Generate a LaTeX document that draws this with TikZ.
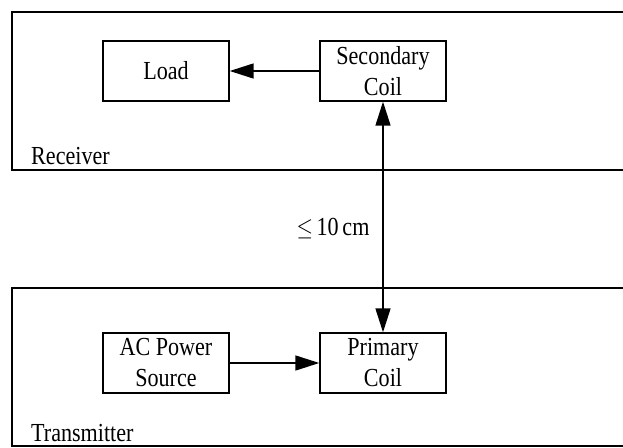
\documentclass[tikz,border=0pt]{standalone}
\usepackage{fontspec}
\usepackage{graphicx}
\setmainfont{Liberation Serif}
\usetikzlibrary{arrows.meta}
\newcommand{\sq}[1]{\scalebox{0.85}[1]{#1}}
\begin{document}
\begin{tikzpicture}[x=1pt,y=-1pt,
  frame/.style={draw,line width=2.4pt},
  blockbox/.style={draw,line width=1.4pt,minimum width=126pt,minimum height=60pt,inner sep=0pt,
    align=center,font=\fontsize{26pt}{31pt}\selectfont},
  conn/.style={line width=1.5pt,-{Triangle[length=24pt,width=15pt]}},
  lbl/.style={font=\fontsize{26pt}{31pt}\selectfont,inner sep=0pt}]
\clip (0,0) rectangle (623,447);
% frames
\draw[frame] (650,12) -- (12,12) -- (12,170) -- (650,170);
\draw[frame] (650,288) -- (12,288) -- (12,446) -- (650,446);
\node[lbl,anchor=base west] (rx) at (31,164) {\sq{Receiver}};
\node[lbl,anchor=base west] (tx) at (31,441) {\sq{Transmitter}};
% blocks
\node[blockbox] (load) at (166,71) {\sq{Load}};
\node[blockbox] (sec) at (383,71) {\sq{Secondary}\\\sq{Coil}};
\node[blockbox] (ac) at (166,363) {\sq{AC Power}\\\sq{Source}};
\node[blockbox] (pri) at (383,363) {\sq{Primary}\\\sq{Coil}};
% connectors
\draw[conn] (sec) -- (load);
\draw[conn] (ac) -- (pri);
\draw[line width=1.5pt,{Triangle[length=24pt,width=15pt]}-{Triangle[length=24pt,width=15pt]}] (sec.south) -- (pri.north);
\node[lbl] (dist) at (333,229) {\sq{$\leq$\,10\,cm}};
\end{tikzpicture}
\end{document}
